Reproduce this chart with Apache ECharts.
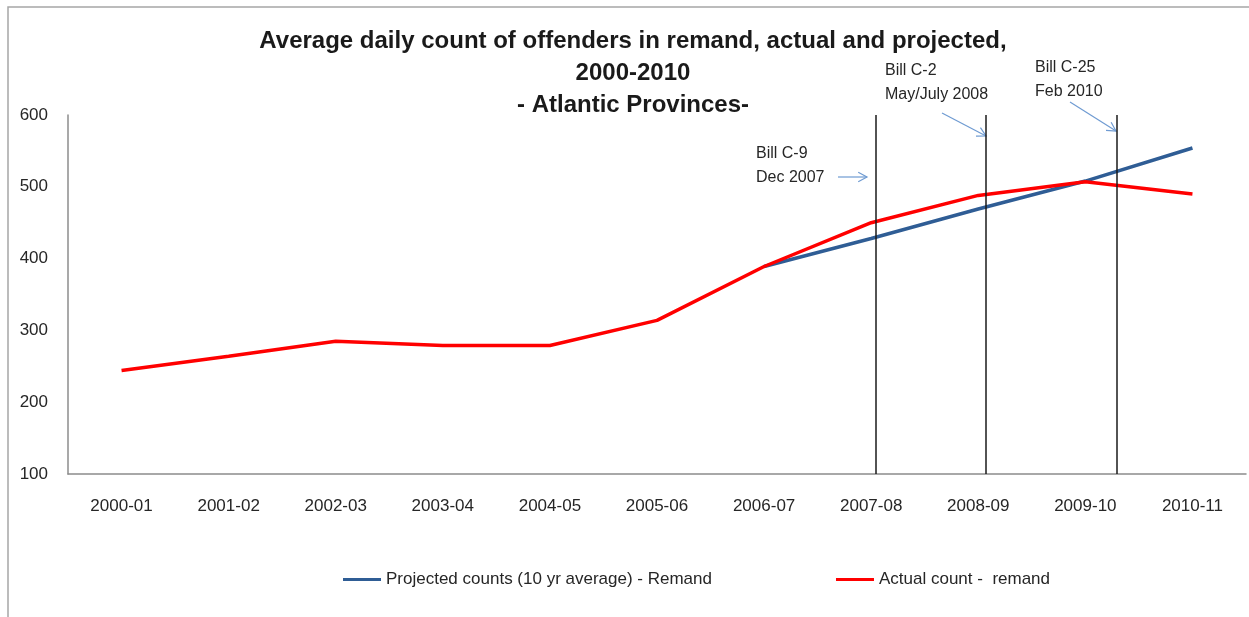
<!DOCTYPE html>
<html>
<head>
<meta charset="utf-8">
<script src="https://cdn.jsdelivr.net/npm/echarts@6/dist/echarts.min.js"></script>
<style>
  html, body { margin: 0; padding: 0; background: #fff; }
  #remand { width: 1249px; height: 617px; }
</style>
</head>
<body>
<div id="remand"></div>
<script>
// fiscal years on the x axis
var years = ['2000-01', '2001-02', '2002-03', '2003-04', '2004-05', '2005-06',
    '2006-07', '2007-08', '2008-09', '2009-10', '2010-11'];

// average daily counts
var actualCounts = [244, 264, 285, 279, 279, 314, 389, 450, 488, 507, 490];
var projectedCounts = [null, null, null, null, null, null, 389, 428, 469, 508, 554];

// bill dates, as positions along the category axis (0 = 2000-01)
var billPositions = [7.04, 8.07, 9.29];

var yTicks = { min: 100, max: 600, step: 100 };

var chart = echarts.init(document.getElementById('remand'));

var font = 'Liberation Sans';
var textColor = '#262626';
var arrowColor = '#6f9bd2';

// small open arrow drawn as graphic lines
function arrow(x1, y1, x2, y2) {
    var ang = Math.atan2(y2 - y1, x2 - x1);
    var len = 10, spread = 0.5;
    var ax = x2 - len * Math.cos(ang - spread), ay = y2 - len * Math.sin(ang - spread);
    var bx = x2 - len * Math.cos(ang + spread), by = y2 - len * Math.sin(ang + spread);
    return [
        { type: 'line', shape: { x1: x1, y1: y1, x2: x2, y2: y2 }, style: { stroke: arrowColor, lineWidth: 1.2 } },
        { type: 'polyline', shape: { points: [[ax, ay], [x2, y2], [bx, by]] }, style: { stroke: arrowColor, lineWidth: 1.2, fill: null } }
    ];
}

function note(x, y, txt) {
    return {
        type: 'text', left: x, top: y,
        style: { text: txt, font: '16px "Liberation Sans"', fill: textColor, lineHeight: 24 }
    };
}

var graphics = [
    { type: 'rect', shape: { x: 8, y: 7, width: 1400, height: 800 }, style: { stroke: '#a6a6a6', lineWidth: 1.5, fill: null }, silent: true },
    note(756, 142, 'Bill C-9\nDec 2007'),
    note(885, 59, 'Bill C-2\nMay/July 2008'),
    note(1035, 56, 'Bill C-25\nFeb 2010')
];
graphics = graphics.concat(arrow(838, 177, 867, 177));
graphics = graphics.concat(arrow(942, 113, 986, 136));
graphics = graphics.concat(arrow(1070, 102, 1116, 131));

var option = {
    animation: false,
    textStyle: { fontFamily: font },
    title: {
        text: 'Average daily count of offenders in remand, actual and projected,\n2000-2010\n- Atlantic Provinces-',
        left: 628,
        top: 20,
        textAlign: 'center',
        textStyle: { fontFamily: font, fontSize: 24, fontWeight: 'bold', color: '#1a1a1a', lineHeight: 32 }
    },
    grid: { left: 68, right: 3, top: 115, bottom: 143 },
    legend: {
        bottom: 24,
        left: 338,
        itemGap: 124,
        itemWidth: 38,
        itemHeight: 3,
        icon: 'rect',
        data: ['Projected counts (10 yr average) - Remand', 'Actual count -  remand'],
        textStyle: { fontFamily: font, fontSize: 17, color: textColor }
    },
    xAxis: [{
        type: 'category',
        data: years,
        axisLine: { lineStyle: { color: '#8c8c8c', width: 1.5 } },
        axisTick: { length: 5, lineStyle: { color: '#8c8c8c' } },
        axisLabel: { fontFamily: font, fontSize: 17, color: textColor, margin: 24 }
    }, {
        // hidden numeric twin of the category axis, used to place the bill lines
        type: 'value',
        show: false,
        min: -0.5,
        max: years.length - 0.5
    }],
    yAxis: {
        type: 'value',
        min: yTicks.min,
        max: yTicks.max,
        interval: yTicks.step,
        splitLine: { show: false },
        axisLine: { show: true, onZero: false, lineStyle: { color: '#8c8c8c', width: 1.5 } },
        axisTick: { show: false },
        axisLabel: { fontFamily: font, fontSize: 17, color: textColor, margin: 20 }
    },
    series: [{
        name: 'Projected counts (10 yr average) - Remand',
        type: 'line',
        data: projectedCounts,
        showSymbol: false,
        symbol: 'none',
        color: '#2f5d95',
        lineStyle: { color: '#2f5d95', width: 3.5 },
        z: 2
    }, {
        name: 'Actual count -  remand',
        type: 'line',
        data: actualCounts,
        showSymbol: false,
        symbol: 'none',
        color: '#ff0000',
        lineStyle: { color: '#ff0000', width: 3.5 },
        z: 3
    }, {
        name: 'bills',
        type: 'line',
        xAxisIndex: 1,
        data: [],
        silent: true,
        markLine: {
            silent: true,
            symbol: 'none',
            label: { show: false },
            lineStyle: { color: '#1a1a1a', width: 1.5, type: 'solid' },
            data: billPositions.map(function (p) { return { xAxis: p }; })
        },
        z: 4
    }],
    graphic: graphics
};

chart.setOption(option);
</script>
</body>
</html>
